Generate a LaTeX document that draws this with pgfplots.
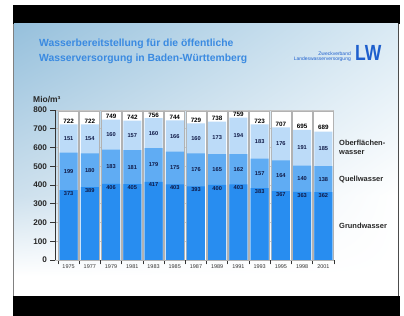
\documentclass[border=0pt]{standalone}
\usepackage{pgfplots}
\pgfplotsset{compat=1.18}
\usepackage{pgfplotstable}
\usetikzlibrary{shadings}
\usepackage{fontspec}
\setmainfont{Liberation Sans}
\definecolor{gw}{RGB}{40,141,240}
\definecolor{qw}{RGB}{96,172,243}
\definecolor{ow}{RGB}{188,219,248}
\definecolor{titleblue}{RGB}{58,138,225}
\definecolor{logoblue}{RGB}{30,95,205}
\definecolor{sky}{RGB}{150,192,220}
\definecolor{skyr}{RGB}{218,234,244}
\definecolor{skyl}{RGB}{205,224,237}
\definecolor{txt}{RGB}{40,40,40}
\definecolor{lab}{RGB}{15,25,70}
\pgfplotstableread{
x year g q s t
0 1975 373 199 151 722
1 1977 389 180 154 722
2 1979 406 183 160 749
3 1981 405 181 157 742
4 1983 417 179 160 756
5 1985 403 175 166 744
6 1987 393 176 160 729
7 1989 400 165 173 738
8 1991 403 162 194 759
9 1993 383 157 183 723
10 1995 367 164 176 707
11 1998 363 140 191 695
12 2001 362 138 185 689
}\data
\begin{document}
\begin{tikzpicture}
\fill[white] (0,0) rectangle (404bp,316bp);
% video frame bands
\fill[black] (13bp,292bp) rectangle (400bp,311bp);
\fill[black] (13bp,0.5bp) rectangle (400bp,20bp);
% slide
\fill[white] (13.5bp,20bp) rectangle (398.5bp,292bp);
\shade[upper left=sky, upper right=skyr, lower left=skyl, lower right=white] (14bp,120bp) rectangle (398bp,292bp);
\shade[upper left=skyl, upper right=white, lower left=white, lower right=white] (14bp,40bp) rectangle (398bp,120bp);
\draw[gray, line width=0.8bp] (13.5bp,20bp) -- (13.5bp,292bp);
\draw[black!70, line width=0.8bp] (398.5bp,20bp) -- (398.5bp,292bp);
% title
\node[anchor=west, inner sep=0pt, font=\fontsize{10.4}{12}\selectfont\bfseries, text=titleblue] at (39bp,272bp) {Wasserbereitstellung für die öffentliche};
\node[anchor=west, inner sep=0pt, font=\fontsize{10.4}{12}\selectfont\bfseries, text=titleblue] at (39bp,257bp) {Wasserversorgung in Baden-Württemberg};
% logo
\node[anchor=east, inner sep=0pt, font=\fontsize{5}{6}\selectfont, text=logoblue] at (351bp,262.7bp) {Zweckverband};
\node[anchor=east, inner sep=0pt, font=\fontsize{5}{6}\selectfont, text=logoblue] at (351bp,256.7bp) {Landeswasserversorgung};
\node[anchor=west, inner sep=0pt, xscale=0.8, font=\fontsize{22}{24}\selectfont\bfseries, text=logoblue] at (355bp,263bp) {LW};
% unit label
\node[anchor=west, inner sep=0pt, font=\fontsize{8.5}{9}\selectfont\bfseries, text=txt] at (33bp,216bp) {Mio/m³};
% series labels
\node[anchor=west, inner sep=0pt, font=\fontsize{7.5}{8}\selectfont\bfseries, text=txt] at (339bp,173bp) {Oberflächen-};
\node[anchor=west, inner sep=0pt, font=\fontsize{7.5}{8}\selectfont\bfseries, text=txt] at (339bp,163bp) {wasser};
\node[anchor=west, inner sep=0pt, font=\fontsize{7.5}{8}\selectfont\bfseries, text=txt] at (339bp,136bp) {Quellwasser};
\node[anchor=west, inner sep=0pt, font=\fontsize{7.5}{8}\selectfont\bfseries, text=txt] at (339bp,90bp) {Grundwasser};
\begin{axis}[
  at={(55bp,56bp)}, anchor=south west,
  scale only axis, width=279bp, height=150bp,
  xmin=-0.64, xmax=12.5, ymin=0, ymax=800,
  clip=false,
  axis x line*=bottom, axis y line*=left,
  axis line style={-, line width=0.8bp, color=black!80},
  x axis line style={shorten <=3bp},
  ytick={0,100,...,800},
  xtick={-0.5,0.5,...,12.5},
  xticklabels={1975,1977,1979,1981,1983,1985,1987,1989,1991,1993,1995,1998,2001,{}},
  xticklabel style={xshift=10.6bp, yshift=3.5bp, font=\fontsize{5.5}{6}\selectfont, text=black!80},
  yticklabel style={font=\fontsize{8.2}{9}\selectfont\bfseries, text=black!85},
  /pgf/number format/assume math mode=true,
  tick align=outside, major tick length=4.5bp,
  tick style={line width=0.7bp, black!80},
  ymajorgrids, grid style={gray!50, line width=0.5bp},
]
\addplot[ybar, bar shift=0pt, bar width=20bp, fill=white, draw=gray!60, line width=0.7bp] table[x=x, y expr=795] {\data};
\addplot[ybar, bar shift=0pt, bar width=18bp, fill=ow, draw=none] table[x=x, y expr=\thisrow{g}+\thisrow{q}+\thisrow{s}] {\data};
\addplot[ybar, bar shift=0pt, bar width=18bp, fill=qw, draw=none] table[x=x, y expr=\thisrow{g}+\thisrow{q}] {\data};
\addplot[ybar, bar shift=0pt, bar width=18bp, fill=gw, draw=none] table[x=x, y=g] {\data};
% value labels
\addplot[only marks, mark=none, nodes near coords, point meta=explicit,
  nodes near coords style={font=\fontsize{6.3}{7}\selectfont\bfseries, text=black, anchor=south, yshift=0.3bp, inner sep=0.5pt},
  /pgf/number format/assume math mode=true]
  table[x=x, y=t, meta=t] {\data};
\addplot[only marks, mark=none, nodes near coords, point meta=explicit,
  nodes near coords style={font=\fontsize{5.7}{6}\selectfont\bfseries, text=lab, anchor=center, inner sep=0pt},
  /pgf/number format/assume math mode=true]
  table[x=x, y expr=\thisrow{g}+\thisrow{q}+0.5*\thisrow{s}, meta=s] {\data};
\addplot[only marks, mark=none, nodes near coords, point meta=explicit,
  nodes near coords style={font=\fontsize{5.7}{6}\selectfont\bfseries, text=lab, anchor=center, inner sep=0pt},
  /pgf/number format/assume math mode=true]
  table[x=x, y expr=\thisrow{g}+0.5*\thisrow{q}, meta=q] {\data};
\addplot[only marks, mark=none, nodes near coords, point meta=explicit,
  nodes near coords style={font=\fontsize{5.7}{6}\selectfont\bfseries, text=lab, anchor=north, yshift=-1bp, inner sep=0pt},
  /pgf/number format/assume math mode=true]
  table[x=x, y=g, meta=g] {\data};
\end{axis}
\pgfresetboundingbox
\path (0,0) rectangle (404bp,316bp);
\end{tikzpicture}
\end{document}
